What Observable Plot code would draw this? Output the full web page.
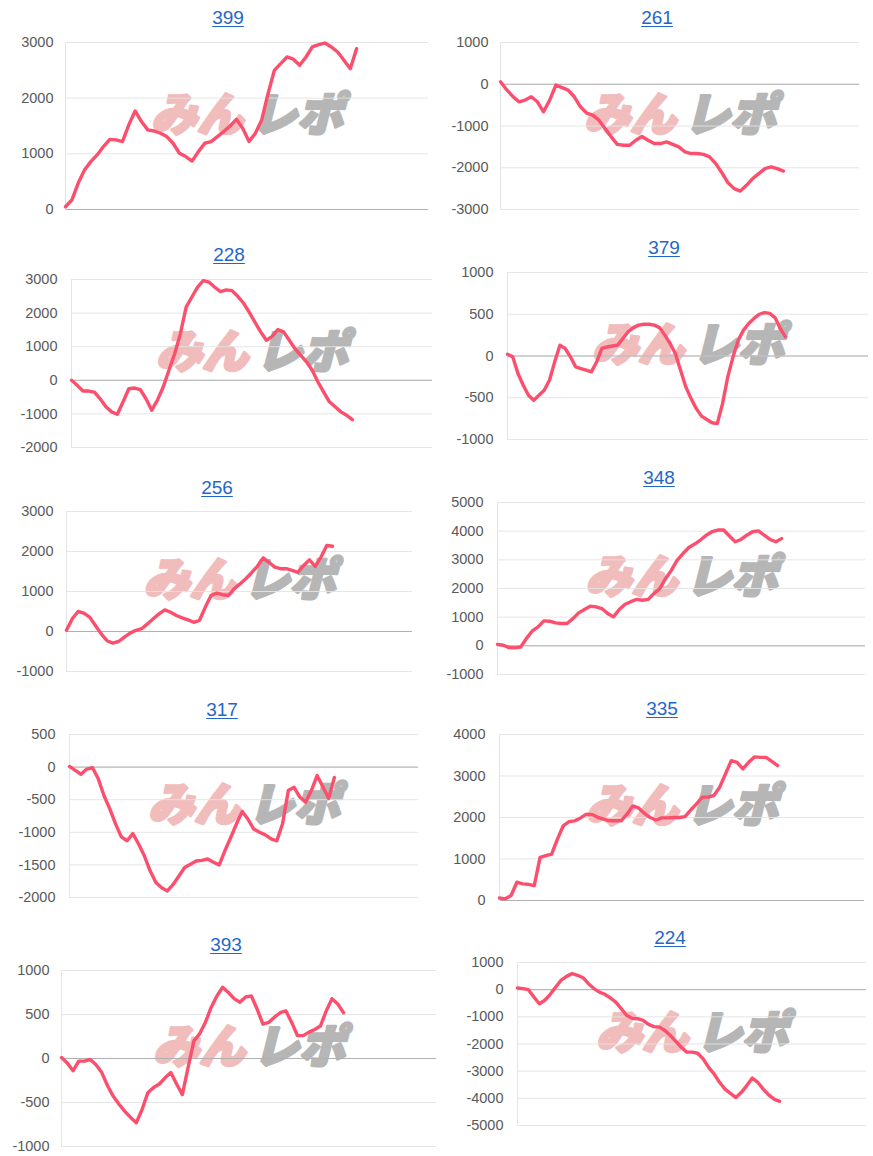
<!DOCTYPE html>
<html>
<head>
<meta charset="utf-8">
<script src="https://cdn.jsdelivr.net/npm/d3@7"></script>
<script src="https://cdn.jsdelivr.net/npm/@observablehq/plot@0.6"></script>
<style>
  html, body { margin: 0; padding: 0; background: #fff; }
  #root { position: relative; width: 873px; height: 1156px; overflow: hidden; background: #fff; }
  .panel { position: absolute; }
  .title { position: absolute; font-family: "Liberation Sans", Arial, sans-serif; font-size: 19px; line-height: 22px;
           color: #1f68c8; text-decoration: underline; text-underline-offset: 2px; white-space: nowrap; transform: translateX(-50%); }
</style>
</head>
<body>
<div id="root"></div>
<script>
// ---- data ----
const titles = ["399", "261", "228", "379", "256", "348", "317", "335", "393", "224"];

const v399 = [50,170,470,710,860,980,1130,1260,1250,1220,1520,1770,1580,1430,1410,1370,1310,1190,1010,950,870,1040,1190,1220,1310,1400,1500,1620,1460,1220,1370,1610,2080,2500,2620,2740,2700,2590,2740,2920,2960,2990,2920,2830,2680,2530,2890];
const v261 = [60,-130,-290,-420,-380,-300,-420,-660,-380,-20,-80,-140,-300,-540,-690,-740,-860,-1060,-1260,-1440,-1460,-1460,-1340,-1250,-1340,-1420,-1420,-1380,-1440,-1500,-1620,-1660,-1660,-1680,-1740,-1900,-2120,-2360,-2500,-2560,-2420,-2260,-2140,-2020,-1980,-2020,-2080];
const v228 = [0,-150,-320,-320,-350,-550,-790,-940,-1010,-640,-250,-230,-280,-550,-890,-590,-200,300,790,1390,2180,2480,2770,2970,2920,2770,2640,2690,2670,2500,2300,2030,1730,1440,1190,1310,1510,1440,1190,940,740,550,300,-50,-350,-640,-790,-940,-1040,-1170];
const v379 = [20,-10,-210,-350,-470,-530,-470,-410,-290,-70,130,90,-10,-130,-150,-170,-190,-70,90,110,120,130,210,290,340,370,380,380,370,340,250,150,30,-170,-370,-510,-630,-720,-760,-800,-810,-570,-250,-10,190,310,390,450,500,520,510,460,330,230];
const v256 = [30,320,500,460,360,150,-60,-230,-290,-250,-140,-40,30,70,190,320,440,540,480,400,340,290,230,280,610,900,960,920,900,1070,1190,1320,1470,1630,1840,1730,1610,1570,1570,1530,1480,1650,1790,1630,1860,2150,2130];
const v348 = [50,20,-60,-70,-40,260,520,660,870,860,800,780,780,950,1150,1270,1380,1360,1300,1130,1010,1270,1450,1540,1620,1590,1620,1830,2000,2350,2640,2990,3220,3430,3550,3690,3860,3980,4040,4040,3830,3630,3710,3860,3980,4010,3860,3710,3630,3740];
const v317 = [10,-50,-110,-30,-10,-180,-440,-640,-870,-1070,-1130,-1020,-1180,-1360,-1590,-1770,-1850,-1900,-1800,-1670,-1540,-1490,-1440,-1430,-1410,-1460,-1500,-1280,-1080,-870,-680,-800,-950,-1000,-1040,-1100,-1130,-870,-360,-310,-460,-540,-360,-130,-300,-480,-160];
const v335 = [60,40,120,440,400,390,360,1040,1080,1120,1480,1800,1900,1920,1990,2080,2070,2000,1960,1920,1920,1920,2080,2280,2230,2100,2000,1940,1990,1990,2000,2000,2020,2180,2330,2490,2490,2530,2730,3050,3370,3330,3170,3330,3460,3450,3450,3350,3250];
const v393 = [10,-50,-140,-30,-30,-10,-70,-160,-310,-430,-520,-600,-670,-730,-580,-390,-330,-290,-220,-160,-290,-410,-100,200,280,410,580,710,810,750,680,640,700,710,560,390,410,470,520,540,410,260,260,300,330,370,540,680,620,520];
const v224 = [60,40,0,-270,-520,-390,-170,100,350,490,590,530,440,220,40,-90,-170,-300,-460,-700,-950,-1050,-1070,-1130,-1280,-1360,-1380,-1500,-1690,-1900,-2120,-2300,-2300,-2340,-2550,-2860,-3100,-3410,-3660,-3820,-3970,-3780,-3530,-3250,-3410,-3660,-3870,-4030,-4110];

const ticks399 = [0, 1000, 2000, 3000];
const ticks261 = [-3000, -2000, -1000, 0, 1000];
const ticks228 = [-2000, -1000, 0, 1000, 2000, 3000];
const ticks379 = [-1000, -500, 0, 500, 1000];
const ticks256 = [-1000, 0, 1000, 2000, 3000];
const ticks348 = [-1000, 0, 1000, 2000, 3000, 4000, 5000];
const ticks317 = [-2000, -1500, -1000, -500, 0, 500];
const ticks335 = [0, 1000, 2000, 3000, 4000];
const ticks393 = [-1000, -500, 0, 500, 1000];
const ticks224 = [-5000, -4000, -3000, -2000, -1000, 0, 1000];

const seriesList = [v399, v261, v228, v379, v256, v348, v317, v335, v393, v224];
const tickList = [ticks399, ticks261, ticks228, ticks379, ticks256, ticks348, ticks317, ticks335, ticks393, ticks224];

// ---- layout (page pixels) ----
// col, plotX0, plotX1, labelRight, gridTop, gridBottom, lineFrac, titleX, titleY
const layout = [
  [0,   65, 428, 53,  42,  209, 0.802, 228, 18],
  [436, 500, 859, 488, 42,  209, 0.788, 657, 18],
  [0,   71, 432, 57,  279, 447, 0.778, 229, 255],
  [436, 507, 868, 493, 272, 439, 0.770, 664, 248],
  [0,   66, 412, 53,  511, 671, 0.769, 217, 488],
  [436, 497, 865, 483, 502, 674, 0.772, 659, 478],
  [0,   69, 418, 55,  734, 897, 0.759, 222, 710],
  [436, 499, 864, 485, 734, 900, 0.762, 662, 709],
  [0,   61, 436, 49,  970, 1146, 0.752, 226, 945],
  [436, 517, 866, 503, 962, 1125, 0.751, 670, 938]
];

const root = document.getElementById("root");
const LINE = "#fb4f6d";
const mt = 10, mb = 10;
const wmFont = "'Noto Sans CJK JP', 'Noto Sans CJK SC', sans-serif";

seriesList.forEach((vals, k) => {
  const [col, px0, px1, lr, gt, gb, frac, tx, ty] = layout[k];
  const ticks = tickList[k];
  const width = col === 0 ? 436 : 437;
  const height = (gb - gt) + mt + mb;
  const n = vals.length;
  const chart = Plot.plot({
    width, height,
    marginLeft: px0 - col,
    marginRight: col + width - px1,
    marginTop: mt, marginBottom: mb,
    style: { fontFamily: "'Liberation Sans', Arial, sans-serif", fontSize: "14.5px", background: "transparent", overflow: "visible" },
    x: { domain: [0, (n - 1) / frac], axis: null },
    y: { domain: [d3.min(ticks), d3.max(ticks)], axis: null },
    marks: [
      Plot.text(["みん"], { frameAnchor: "middle", dx: -50, dy: -10, fontSize: 46, fontWeight: 900, fontStyle: "italic",
        fontFamily: wmFont, fill: "#f1bcbc", stroke: "#f1bcbc", strokeWidth: 3 }),
      Plot.text(["レポ"], { frameAnchor: "middle", dx: 50, dy: -10, fontSize: 46, fontWeight: 900, fontStyle: "italic",
        fontFamily: wmFont, fill: "#b6b6b6", stroke: "#b6b6b6", strokeWidth: 3 }),
      Plot.gridY(ticks, { stroke: "#e3e3e3", strokeOpacity: 0.9 }),
      Plot.ruleY([0], { stroke: "#b0b0b0" }),
      Plot.frame({ anchor: "left", stroke: "#e3e3e3" }),
      Plot.line(vals, { x: (d, i) => i, y: d => d, stroke: LINE, strokeWidth: 3.4, strokeLinejoin: "round", strokeLinecap: "round" }),
      Plot.axisY(ticks, { tickSize: 0, tickPadding: px0 - lr, tickFormat: d => String(d), fill: "#5a5a5a", fontSize: 14.5 })
    ]
  });
  const wrap = document.createElement("div");
  wrap.className = "panel";
  wrap.style.left = col + "px";
  wrap.style.top = (gt - mt) + "px";
  wrap.appendChild(chart);
  root.appendChild(wrap);

  const t = document.createElement("div");
  t.className = "title";
  t.textContent = titles[k];
  t.style.left = tx + "px";
  t.style.top = (ty - 11) + "px";
  root.appendChild(t);
});
</script>
</body>
</html>
